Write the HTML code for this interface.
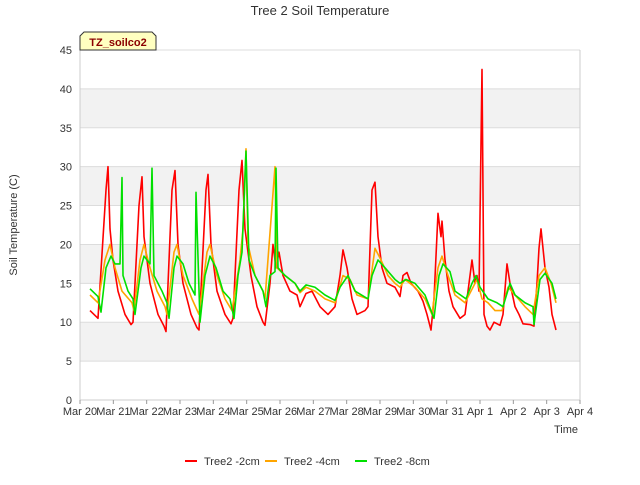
<!DOCTYPE html>
<html><head><meta charset="utf-8"><style>
body{margin:0;background:#fff;font-family:"Liberation Sans",sans-serif}
</style></head><body>
<svg width="640" height="480" xmlns="http://www.w3.org/2000/svg" font-family="Liberation Sans, sans-serif">
<g id="bg"></g>
<g id="grid"></g>
<g id="series"></g>
<g id="axes"></g>
<text x="320" y="15" text-anchor="middle" font-size="13" fill="#333">Tree 2 Soil Temperature</text>
<text transform="translate(17,225) rotate(-90)" text-anchor="middle" font-size="11" fill="#333">Soil Temperature (C)</text>
<text x="566" y="433" text-anchor="middle" font-size="11" fill="#333">Time</text>
<g>
<path d="M80,50 L80,36 L84,32 L152,32 L156,36 L156,50 Z" fill="#ffffc0" stroke="#333" stroke-width="1"/>
<text x="118" y="46" text-anchor="middle" font-size="11" font-weight="bold" fill="#8b0000">TZ_soilco2</text>
</g>
<g id="legend"></g>
</svg>
<script>
const dayLabels=["Mar 20","Mar 21","Mar 22","Mar 23","Mar 24","Mar 25","Mar 26","Mar 27","Mar 28","Mar 29","Mar 30","Mar 31","Apr 1","Apr 2","Apr 3","Apr 4"];
const yTicks=[0,5,10,15,20,25,30,35,40,45];
const seriesNames=["Tree2 -2cm","Tree2 -4cm","Tree2 -8cm"];
const redT=[0.30,0.54,0.78,0.84,0.90,0.99,1.14,1.35,1.53,1.59,1.77,1.86,1.92,2.10,2.34,2.52,2.58,2.76,2.85,2.94,3.09,3.33,3.51,3.57,3.78,3.84,3.93,4.11,4.35,4.53,4.59,4.77,4.86,4.95,5.13,5.31,5.49,5.55,5.70,5.79,5.88,5.97,6.09,6.30,6.51,6.60,6.78,6.96,7.20,7.44,7.65,7.80,7.89,8.01,8.16,8.31,8.55,8.64,8.76,8.85,8.94,9.06,9.21,9.45,9.60,9.69,9.81,9.93,10.14,10.29,10.41,10.53,10.62,10.74,10.83,10.86,10.95,11.07,11.19,11.40,11.55,11.70,11.76,11.85,11.91,11.97,12.06,12.12,12.21,12.30,12.42,12.60,12.69,12.81,12.90,13.05,13.17,13.29,13.50,13.62,13.71,13.77,13.83,13.95,14.07,14.16,14.28];
const redV=[11.5,10.5,27,30,22,18,14,11,9.7,10,25,28.7,21,15,11,9.5,8.8,27,29.5,20,15,11,9.3,9,27,29,20,14,11,9.8,10.5,27,30.8,22,16,12,10,9.6,15,20,17,19,16,14,13.5,12,13.7,14,12,11,12,16,19.3,17,13,11,11.5,12,27,28,21,17,15,14.5,13.3,16,16.4,15,14,12.7,11,9,13,24,21,23,18,14,12,10.5,11,16,18,15,16,14,42.5,11,9.5,9,10,9.6,11,17.5,15,12,11,9.8,9.7,9.5,15,19.5,22,17,14.5,11,9];
const orangeT=[0.30,0.54,0.75,0.90,1.05,1.26,1.56,1.62,1.80,1.92,2.10,2.31,2.55,2.61,2.82,2.91,3.09,3.36,3.57,3.81,3.90,4.11,4.35,4.56,4.80,4.89,4.98,5.04,5.25,5.49,5.55,5.85,5.91,6.15,6.45,6.60,6.78,7.05,7.35,7.65,7.89,8.10,8.31,8.64,8.85,9.03,9.24,9.45,9.60,9.75,10.05,10.35,10.56,10.74,10.86,11.04,11.25,11.55,11.79,11.91,12.06,12.24,12.45,12.66,12.84,13.05,13.35,13.59,13.77,13.95,14.13,14.28];
const orangeV=[13.5,12.5,18,20,17,14,12.5,11.5,18,20,17,14,12,11,19,20,16,13,11,19,20,16,13,11.5,18,22,32.3,20,16,14,13,30,17,16,15,13.8,14.5,14,13,12.5,16,15.5,13.5,13,19.5,18,16,15,14.5,15.5,14.5,13,11,17,18.5,16,13.5,12.5,14.5,15.5,13,12.5,11.5,11.5,14.5,13.5,12,11,16,17,15,12.5];
const greenT=[0.30,0.54,0.63,0.78,0.93,1.05,1.20,1.26,1.29,1.44,1.59,1.65,1.83,1.92,2.10,2.16,2.22,2.46,2.61,2.67,2.82,2.91,3.09,3.27,3.45,3.48,3.60,3.75,3.90,4.08,4.29,4.50,4.62,4.74,4.86,4.98,5.07,5.25,5.49,5.58,5.70,5.85,5.88,5.94,6.15,6.45,6.60,6.78,7.05,7.35,7.65,7.80,8.04,8.25,8.64,8.76,8.94,9.15,9.45,9.60,9.78,10.05,10.35,10.62,10.77,10.89,11.10,11.25,11.58,11.76,11.88,12.00,12.24,12.51,12.69,12.90,13.05,13.35,13.59,13.62,13.80,13.95,14.16,14.28];
const greenV=[14.3,13.3,11.3,17,18.5,17.5,17.5,28.6,16,14,13,11,17,18.5,17.5,29.8,16,14,12.5,10.5,17,18.5,17.5,15,13.5,26.7,10,16,18.5,17,14,13,10.5,16,19,32,18,16,14,12,16,16.5,29.8,17,16,15,14,14.8,14.5,13.5,12.8,14.5,16,14,13,16,18,17,15.5,15,15.5,15,13.5,10.5,16,17.5,16.5,14,13,15,16,14.5,13,12.5,12,15,13.5,12.5,12,9.7,15.5,16.3,15,13];
const L=80,R=580,T=50,B=400,NS="http://www.w3.org/2000/svg";
const xs=d=>L+(R-L)*d/15, ys=v=>B-(B-T)*v/45;
function mk(tag,attrs,parent){const e=document.createElementNS(NS,tag);for(const k in attrs)e.setAttribute(k,attrs[k]);parent.appendChild(e);return e;}
const bg=document.getElementById('bg'),grid=document.getElementById('grid'),axes=document.getElementById('axes'),ser=document.getElementById('series'),leg=document.getElementById('legend');
mk('rect',{x:L,y:T,width:R-L,height:B-T,fill:'#fff'},bg);
for(let i=0;i<yTicks.length-1;i++){if(i%2===1){const r=mk('rect',{x:L,y:ys(yTicks[i+1]),width:R-L,height:ys(yTicks[i])-ys(yTicks[i+1]),fill:'#f2f2f2'},bg);

}}
yTicks.forEach(v=>{const g=mk('line',{x1:L,x2:R,y1:ys(v),y2:ys(v),stroke:'#dcdcdc','stroke-width':1},grid);


const t=mk('text',{x:L-8,y:ys(v)+4,'text-anchor':'end','font-size':11,fill:'#333'},axes);t.textContent=v;

});
mk('line',{x1:L,x2:L,y1:T,y2:B,stroke:'#ccc'},axes);mk('line',{x1:R,x2:R,y1:T,y2:B,stroke:'#ccc'},axes);mk('line',{x1:L,x2:R,y1:B,y2:B,stroke:'#ccc'},axes);
dayLabels.forEach((d,i)=>{mk('line',{x1:xs(i),x2:xs(i),y1:B,y2:B+4,stroke:'#999'},axes);
const t=mk('text',{x:xs(i),y:B+15,'text-anchor':'middle','font-size':11,fill:'#333'},axes);t.textContent=d;

});
const defs=[[redT,redV,'#ff0000'],[orangeT,orangeV,'#ffa500'],[greenT,greenV,'#00e000']];
defs.forEach(([tt,vv,c],k)=>{const p=mk('polyline',{points:tt.map((t,i)=>xs(t)+','+ys(vv[i])).join(' '),fill:'none',stroke:c,'stroke-width':1.6,'stroke-linejoin':'round'},ser);


const lx=[185,265,355][k];
mk('line',{x1:lx,x2:lx+12,y1:461,y2:461,stroke:c,'stroke-width':2},leg);
const t=mk('text',{x:lx+19,y:465,'font-size':11,fill:'#333'},leg);t.textContent=seriesNames[k];

});
</script>
</body></html>
